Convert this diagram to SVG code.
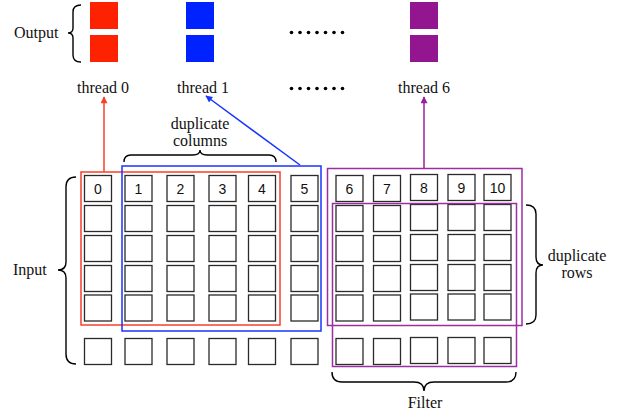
<svg xmlns="http://www.w3.org/2000/svg" width="625" height="418" viewBox="0 0 625 418">
  <defs>
    <style>
      .lbl { font-family: "Liberation Serif", "Times New Roman", serif; font-size: 16px; fill: #111; }
      .num { font-family: "Liberation Sans", Arial, sans-serif; font-size: 14px; fill: #111; text-anchor: middle; }
      .cell { fill: #fff; stroke: #2a2a2a; stroke-width: 1.3; }
      .brace { fill: none; stroke: #000; stroke-width: 1.4; }
      .dot { fill: #000; }
    </style>
    <marker id="ahRed" viewBox="0 0 10 10" refX="9" refY="5" markerWidth="8" markerHeight="7" orient="auto" markerUnits="userSpaceOnUse">
      <path d="M0,0 L10,5 L0,10 z" fill="#f5402c"/>
    </marker>
    <marker id="ahBlue" viewBox="0 0 10 10" refX="9" refY="5" markerWidth="8" markerHeight="7" orient="auto" markerUnits="userSpaceOnUse">
      <path d="M0,0 L10,5 L0,10 z" fill="#1a35ff"/>
    </marker>
    <marker id="ahPurple" viewBox="0 0 10 10" refX="9" refY="5" markerWidth="8" markerHeight="7" orient="auto" markerUnits="userSpaceOnUse">
      <path d="M0,0 L10,5 L0,10 z" fill="#96209a"/>
    </marker>
  </defs>
  <rect width="625" height="418" fill="#fff"/>

  <!-- output blocks -->
  <g id="output">
    <text class="lbl" x="14" y="38">Output</text>
    <path class="brace" d="M81,5 Q73,5 73,12 L73,28 Q73,33 68,33 Q73,33 73,38 L73,55 Q73,62 81,62"/>
    <rect x="90" y="2" width="28" height="27" fill="#ff2200"/>
    <rect x="90" y="35" width="28" height="27" fill="#ff2200"/>
    <rect x="186" y="2" width="28" height="27" fill="#0022ff"/>
    <rect x="186" y="35" width="28" height="27" fill="#0022ff"/>
    <rect x="410" y="2" width="28" height="27" fill="#941590"/>
    <rect x="410" y="35" width="28" height="27" fill="#941590"/>
    <g>
      <circle class="dot" cx="291.5" cy="32.5" r="1.8"/><circle class="dot" cx="300" cy="32.5" r="1.8"/>
      <circle class="dot" cx="308.5" cy="32.5" r="1.8"/><circle class="dot" cx="317" cy="32.5" r="1.8"/>
      <circle class="dot" cx="325.5" cy="32.5" r="1.8"/><circle class="dot" cx="334" cy="32.5" r="1.8"/>
      <circle class="dot" cx="342.5" cy="32.5" r="1.8"/>
    </g>
  </g>

  <!-- thread labels -->
  <g id="threads">
    <text class="lbl" x="103" y="93" text-anchor="middle">thread 0</text>
    <text class="lbl" x="203" y="93" text-anchor="middle">thread 1</text>
    <text class="lbl" x="424" y="93" text-anchor="middle">thread 6</text>
    <g>
      <circle class="dot" cx="291.5" cy="88.5" r="1.8"/><circle class="dot" cx="300" cy="88.5" r="1.8"/>
      <circle class="dot" cx="308.5" cy="88.5" r="1.8"/><circle class="dot" cx="317" cy="88.5" r="1.8"/>
      <circle class="dot" cx="325.5" cy="88.5" r="1.8"/><circle class="dot" cx="334" cy="88.5" r="1.8"/>
      <circle class="dot" cx="342.5" cy="88.5" r="1.8"/>
    </g>
  </g>

  <!-- input grid -->
  <g id="input-grid">
    <g id="col0"><rect class="cell" x="84.5" y="175.5" width="27" height="26"/><text class="num" x="98" y="194">0</text>
      <rect class="cell" x="84.5" y="205.5" width="27" height="26"/><rect class="cell" x="84.5" y="235.5" width="27" height="26"/>
      <rect class="cell" x="84.5" y="265.5" width="27" height="26"/><rect class="cell" x="84.5" y="295" width="27" height="26"/>
      <rect class="cell" x="84.5" y="338.5" width="27" height="26"/></g>
    <g id="col1"><rect class="cell" x="125" y="175.5" width="27" height="26"/><text class="num" x="138.5" y="194">1</text>
      <rect class="cell" x="125" y="205.5" width="27" height="26"/><rect class="cell" x="125" y="235.5" width="27" height="26"/>
      <rect class="cell" x="125" y="265.5" width="27" height="26"/><rect class="cell" x="125" y="295" width="27" height="26"/>
      <rect class="cell" x="125" y="338.5" width="27" height="26"/></g>
    <g id="col2"><rect class="cell" x="167" y="175.5" width="27" height="26"/><text class="num" x="180.5" y="194">2</text>
      <rect class="cell" x="167" y="205.5" width="27" height="26"/><rect class="cell" x="167" y="235.5" width="27" height="26"/>
      <rect class="cell" x="167" y="265.5" width="27" height="26"/><rect class="cell" x="167" y="295" width="27" height="26"/>
      <rect class="cell" x="167" y="338.5" width="27" height="26"/></g>
    <g id="col3"><rect class="cell" x="209" y="175.5" width="27" height="26"/><text class="num" x="222.5" y="194">3</text>
      <rect class="cell" x="209" y="205.5" width="27" height="26"/><rect class="cell" x="209" y="235.5" width="27" height="26"/>
      <rect class="cell" x="209" y="265.5" width="27" height="26"/><rect class="cell" x="209" y="295" width="27" height="26"/>
      <rect class="cell" x="209" y="338.5" width="27" height="26"/></g>
    <g id="col4"><rect class="cell" x="248.5" y="175.5" width="27" height="26"/><text class="num" x="262" y="194">4</text>
      <rect class="cell" x="248.5" y="205.5" width="27" height="26"/><rect class="cell" x="248.5" y="235.5" width="27" height="26"/>
      <rect class="cell" x="248.5" y="265.5" width="27" height="26"/><rect class="cell" x="248.5" y="295" width="27" height="26"/>
      <rect class="cell" x="248.5" y="338.5" width="27" height="26"/></g>
    <g id="col5"><rect class="cell" x="291" y="175.5" width="27" height="26"/><text class="num" x="304.5" y="194">5</text>
      <rect class="cell" x="291" y="205.5" width="27" height="26"/><rect class="cell" x="291" y="235.5" width="27" height="26"/>
      <rect class="cell" x="291" y="265.5" width="27" height="26"/><rect class="cell" x="291" y="295" width="27" height="26"/>
      <rect class="cell" x="291" y="338.5" width="27" height="26"/></g>
    <g id="col6"><rect class="cell" x="336" y="175.5" width="27" height="26"/><text class="num" x="349.5" y="194">6</text>
      <rect class="cell" x="336" y="205.5" width="27" height="26"/><rect class="cell" x="336" y="235.5" width="27" height="26"/>
      <rect class="cell" x="336" y="265.5" width="27" height="26"/><rect class="cell" x="336" y="295" width="27" height="26"/>
      <rect class="cell" x="336" y="338.5" width="27" height="26"/></g>
    <g id="col7"><rect class="cell" x="373.5" y="175.5" width="27" height="26"/><text class="num" x="387" y="194">7</text>
      <rect class="cell" x="373.5" y="205.5" width="27" height="26"/><rect class="cell" x="373.5" y="235.5" width="27" height="26"/>
      <rect class="cell" x="373.5" y="265.5" width="27" height="26"/><rect class="cell" x="373.5" y="295" width="27" height="26"/>
      <rect class="cell" x="373.5" y="338.5" width="27" height="26"/></g>
    <g id="col8"><rect class="cell" x="410.5" y="174.5" width="27" height="26"/><text class="num" x="424" y="193">8</text>
      <rect class="cell" x="410.5" y="204.5" width="27" height="26"/><rect class="cell" x="410.5" y="234.5" width="27" height="26"/>
      <rect class="cell" x="410.5" y="264.5" width="27" height="26"/><rect class="cell" x="410.5" y="294" width="27" height="26"/>
      <rect class="cell" x="410.5" y="337.5" width="27" height="26"/></g>
    <g id="col9"><rect class="cell" x="448" y="174.5" width="27" height="26"/><text class="num" x="461.5" y="193">9</text>
      <rect class="cell" x="448" y="204.5" width="27" height="26"/><rect class="cell" x="448" y="234.5" width="27" height="26"/>
      <rect class="cell" x="448" y="264.5" width="27" height="26"/><rect class="cell" x="448" y="294" width="27" height="26"/>
      <rect class="cell" x="448" y="337.5" width="27" height="26"/></g>
    <g id="col10"><rect class="cell" x="484" y="174.5" width="27" height="26"/><text class="num" x="497.5" y="193">10</text>
      <rect class="cell" x="484" y="204.5" width="27" height="26"/><rect class="cell" x="484" y="234.5" width="27" height="26"/>
      <rect class="cell" x="484" y="264.5" width="27" height="26"/><rect class="cell" x="484" y="294" width="27" height="26"/>
      <rect class="cell" x="484" y="337.5" width="27" height="26"/></g>
  </g>

  <!-- filter windows -->
  <g id="windows" fill="none" stroke-width="1.5">
    <rect id="win-thread0" x="81" y="172" width="199" height="153" stroke="#f5402c"/>
    <rect id="win-thread1" x="122" y="166" width="199" height="165" stroke="#1a35ff"/>
    <rect id="win-thread6" x="327.5" y="168.5" width="194.5" height="157" stroke="#9b2fa0"/>
    <rect id="win-filter" x="332.5" y="203.5" width="184" height="163" stroke="#9b2fa0"/>
  </g>

  <!-- labels and braces -->
  <g id="input-label">
    <text class="lbl" x="13" y="275">Input</text>
    <path class="brace" d="M76,177 Q66,177 66,187 L66,262 Q66,270 58,270 Q66,270 66,278 L66,354 Q66,364 76,364"/>
  </g>
  <g id="dup-columns">
    <text class="lbl" x="200" y="129" text-anchor="middle">duplicate</text>
    <text class="lbl" x="200" y="146" text-anchor="middle">columns</text>
    <path class="brace" d="M124,162 Q124,155 131,155 L193,155 Q200,155 200,150 Q200,155 207,155 L269,155 Q276,155 276,162"/>
  </g>
  <g id="dup-rows">
    <text class="lbl" x="577" y="261" text-anchor="middle">duplicate</text>
    <text class="lbl" x="577" y="278" text-anchor="middle">rows</text>
    <path class="brace" d="M526,205 Q536,205 536,214 L536,257 Q536,265 543,265 Q536,265 536,273 L536,315 Q536,324 526,324"/>
  </g>
  <g id="filter-label">
    <text class="lbl" x="425" y="408" text-anchor="middle">Filter</text>
    <path class="brace" d="M332,372 Q332,382 342,382 L414,382 Q424,382 424,391 Q424,382 434,382 L506,382 Q516,382 516,372"/>
  </g>

  <!-- connectors -->
  <g id="connectors" stroke-width="1.5" fill="none">
    <line x1="104" y1="172" x2="104" y2="97" stroke="#f5402c" marker-end="url(#ahRed)"/>
    <line x1="300" y1="165" x2="206" y2="96" stroke="#1a35ff" marker-end="url(#ahBlue)"/>
    <line x1="424" y1="168.5" x2="424" y2="97" stroke="#96209a" marker-end="url(#ahPurple)"/>
  </g>
</svg>
